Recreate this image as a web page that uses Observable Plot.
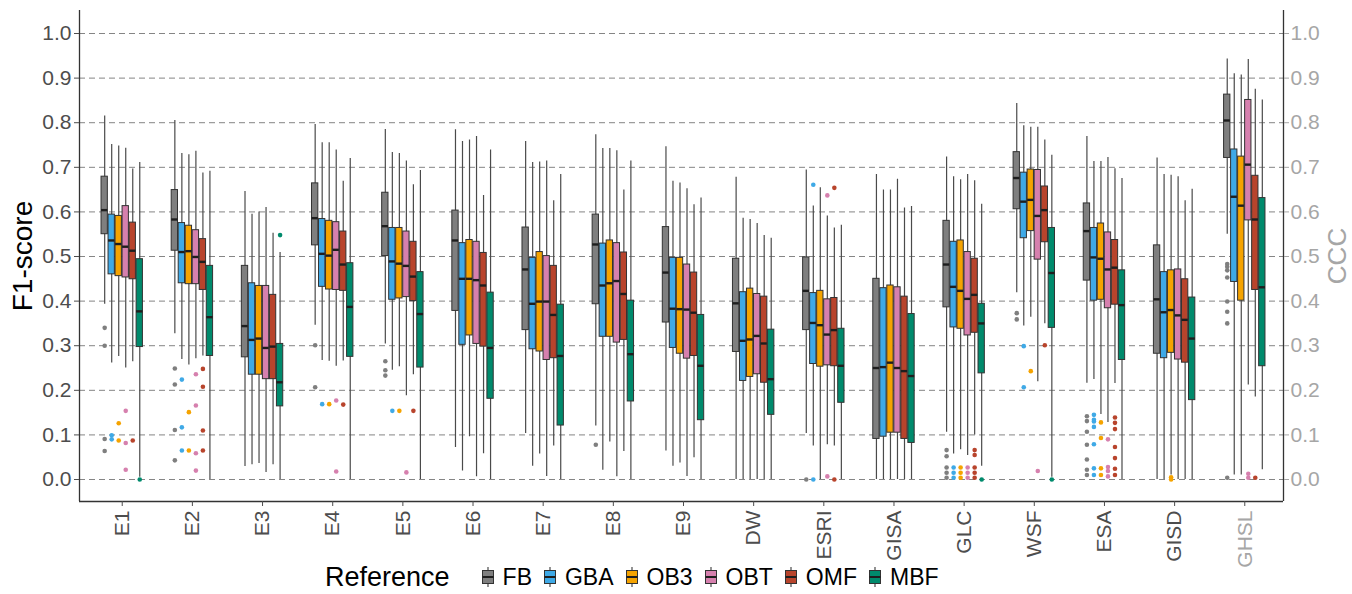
<!DOCTYPE html>
<html>
<head>
<meta charset="utf-8">
<script src="https://cdn.jsdelivr.net/npm/d3@7"></script>
<script src="https://cdn.jsdelivr.net/npm/@observablehq/plot@0.6"></script>
<style>
  body { margin: 0; background: #fff; font-family: "Liberation Sans", Arial, Helvetica, sans-serif; }
  #chart svg { display: block; }
  #legend { display: flex; align-items: center; height: 36px; padding-left: 325px; padding-top: 2px; box-sizing: border-box; }
  #legend .title { font-size: 27px; color: #000; margin-right: 31px; }
  #legend .item { display: flex; align-items: center; margin-right: 11px; }
  #legend .item svg { margin-right: 8px; }
  #legend .item span { font-size: 23px; color: #000; }
</style>
</head>
<body>
<div id="chart"></div>
<div id="legend"></div>
<script>
const groups = ["E1","E2","E3","E4","E5","E6","E7","E8","E9","DW","ESRI","GISA","GLC","WSF","ESA","GISD","GHSL"];
const seriesNames = ["FB","GBA","OB3","OBT","OMF","MBF"];
const seriesColors = ["#7f7f7f","#3fa9e6","#f5a300","#d680ae","#b8442c","#008a6c"];
const yTicks = [0,0.1,0.2,0.3,0.4,0.5,0.6,0.7,0.8,0.9,1.0];

// [lower whisker, Q1, median, Q3, upper whisker] per group
const FB = [
  [0.393,0.550,0.604,0.679,0.815],[0.327,0.513,0.583,0.649,0.805],[0.029,0.274,0.344,0.479,0.646],
  [0.346,0.525,0.586,0.664,0.796],[0.304,0.501,0.568,0.643,0.785],[0.072,0.378,0.536,0.603,0.784],
  [0.103,0.335,0.471,0.565,0.758],[0.120,0.393,0.527,0.594,0.773],[0.064,0.352,0.464,0.566,0.746],
  [0.000,0.286,0.395,0.495,0.678],[0.103,0.335,0.423,0.498,0.694],[0.000,0.091,0.250,0.450,0.684],
  [0.106,0.386,0.482,0.580,0.723],[0.419,0.606,0.676,0.734,0.843],[0.216,0.446,0.557,0.619,0.769],
  [0.000,0.282,0.404,0.525,0.721],[0.550,0.721,0.805,0.863,0.943]
];
const GBA = [
  [0.261,0.460,0.536,0.594,0.751],[0.269,0.440,0.510,0.575,0.731],[0.033,0.235,0.313,0.440,0.595],
  [0.267,0.432,0.506,0.584,0.755],[0.245,0.403,0.489,0.564,0.733],[0.019,0.302,0.450,0.530,0.758],
  [0.030,0.292,0.394,0.497,0.711],[0.021,0.320,0.435,0.529,0.742],[0.030,0.295,0.383,0.497,0.669],
  [0.000,0.221,0.311,0.420,0.586],[0.075,0.259,0.351,0.418,0.613],[0.000,0.096,0.252,0.429,0.649],
  [0.057,0.341,0.432,0.533,0.679],[0.344,0.541,0.623,0.688,0.793],[0.224,0.401,0.498,0.564,0.713],
  [0.000,0.272,0.375,0.465,0.684],[0.010,0.443,0.634,0.740,0.910]
];
const OB3 = [
  [0.276,0.456,0.528,0.591,0.748],[0.257,0.438,0.512,0.569,0.728],[0.036,0.235,0.316,0.434,0.600],
  [0.265,0.426,0.502,0.580,0.755],[0.253,0.406,0.484,0.564,0.731],[0.096,0.323,0.450,0.537,0.761],
  [0.057,0.287,0.399,0.510,0.712],[0.084,0.320,0.440,0.536,0.742],[0.037,0.282,0.382,0.497,0.665],
  [0.000,0.230,0.314,0.428,0.583],[0.000,0.253,0.346,0.423,0.654],[0.000,0.105,0.262,0.435,0.649],
  [0.067,0.338,0.423,0.536,0.672],[0.364,0.557,0.627,0.695,0.790],[0.146,0.403,0.495,0.574,0.713],
  [0.010,0.284,0.380,0.469,0.682],[0.010,0.401,0.614,0.724,0.907]
];
const OBT = [
  [0.250,0.453,0.522,0.613,0.743],[0.271,0.438,0.499,0.559,0.736],[0.016,0.225,0.295,0.434,0.610],
  [0.254,0.425,0.515,0.577,0.739],[0.188,0.409,0.479,0.556,0.714],[0.006,0.304,0.447,0.533,0.769],
  [0.007,0.268,0.399,0.501,0.714],[0.006,0.307,0.445,0.530,0.737],[0.007,0.271,0.381,0.482,0.652],
  [0.000,0.236,0.322,0.416,0.574],[0.078,0.256,0.325,0.404,0.591],[0.000,0.105,0.250,0.431,0.673],
  [0.054,0.323,0.405,0.510,0.684],[0.219,0.493,0.591,0.694,0.790],[0.128,0.384,0.471,0.554,0.722],
  [0.000,0.269,0.368,0.471,0.679],[0.212,0.581,0.706,0.851,0.942]
];
const OMF = [
  [0.264,0.449,0.513,0.576,0.696],[0.277,0.425,0.488,0.539,0.687],[0.033,0.225,0.298,0.414,0.552],
  [0.266,0.423,0.482,0.556,0.669],[0.235,0.400,0.455,0.533,0.661],[0.058,0.298,0.435,0.508,0.637],
  [0.075,0.272,0.369,0.479,0.625],[0.063,0.313,0.416,0.509,0.649],[0.049,0.277,0.374,0.464,0.616],
  [0.000,0.217,0.305,0.410,0.547],[0.075,0.254,0.335,0.407,0.564],[0.000,0.091,0.243,0.410,0.609],
  [0.100,0.329,0.414,0.495,0.670],[0.349,0.532,0.604,0.657,0.761],[0.215,0.392,0.475,0.537,0.697],
  [0.000,0.262,0.358,0.449,0.625],[0.185,0.425,0.583,0.681,0.875]
];
const MBF = [
  [0.005,0.297,0.377,0.494,0.711],[0.000,0.277,0.364,0.479,0.691],[0.000,0.164,0.218,0.304,0.509],
  [0.000,0.275,0.387,0.485,0.720],[0.000,0.251,0.371,0.465,0.693],[0.000,0.181,0.295,0.419,0.739],
  [0.000,0.121,0.277,0.392,0.684],[0.000,0.175,0.281,0.401,0.714],[0.000,0.133,0.255,0.369,0.631],
  [0.000,0.145,0.225,0.336,0.541],[0.000,0.172,0.255,0.338,0.570],[0.000,0.082,0.232,0.371,0.612],
  [0.030,0.238,0.350,0.394,0.617],[0.005,0.340,0.463,0.564,0.727],[0.000,0.268,0.391,0.469,0.675],
  [0.000,0.178,0.316,0.408,0.651],[0.022,0.254,0.431,0.631,0.851]
];

// outliers per group
const FB_out = [
  [0.34,0.30,0.091,0.064],[0.249,0.213,0.111,0.043],[],[0.301,0.207],[0.265,0.245,0.233],[],[],[0.078],[],
  [],[0.0],[],[0.066,0.052,0.027,0.015,0.004],[0.373,0.359],[0.142,0.131,0.107,0.078,0.045,0.022,0.01],[],
  [0.483,0.477,0.469,0.453,0.399,0.376,0.35,0.004]
];
const GBA_out = [
  [0.099,0.09],[0.224,0.117,0.065],[],[0.169],[0.154],[],[],[],[],
  [],[0.661,0.0],[],[0.027,0.015,0.004],[0.299,0.207],[0.145,0.134,0.13,0.118,0.079,0.025,0.01],[],[]
];
const OB3_out = [
  [0.126,0.0875],[0.151,0.065],[],[0.169],[0.154],[],[],[],[],
  [],[],[],[0.027,0.015,0.004],[0.243],[0.128,0.093,0.025,0.01],[0.005,0.0],[]
];
const OBT_out = [
  [0.154,0.082,0.022],[0.236,0.166,0.059,0.02],[],[0.177,0.018],[0.016],[],[],[],[],
  [],[0.637,0.007],[],[0.027,0.015,0.004],[0.019],[0.09,0.028,0.019,0.007],[],[0.013,0.004]
];
const OMF_out = [
  [0.0875],[0.248,0.208,0.11,0.065],[],[0.168],[0.154],[],[],[],[],
  [],[0.654,0.0],[],[0.066,0.055,0.027,0.015,0.004],[0.301],[0.139,0.127,0.113,0.073,0.048,0.024,0.01],[],[0.004]
];
const MBF_out = [
  [0.0],[],[0.548],[],[],[],[],[],[],
  [],[],[],[0.0],[0.0],[],[],[]
];

const stats = {FB, GBA, OB3, OBT, OMF, MBF};
const outs = {FB: FB_out, GBA: GBA_out, OB3: OB3_out, OBT: OBT_out, OMF: OMF_out, MBF: MBF_out};

const dodge = 0.1, halfW = 0.045;
const boxes = [], outliers = [];
seriesNames.forEach((s, si) => {
  stats[s].forEach((st, gi) => {
    boxes.push({group: groups[gi], series: s, x: gi + (si - 2.5) * dodge,
      lo: st[0], q1: st[1], med: st[2], q3: st[3], hi: st[4]});
  });
  outs[s].forEach((arr, gi) => arr.forEach(v => outliers.push({series: s, x: gi + (si - 2.5) * dodge, y: v})));
});

const xDomain = [-0.609, 16.552];
const yDomain = [-0.0493, 1.0516];
const fontFamily = '"Liberation Sans", Arial, Helvetica, sans-serif';

const chart = Plot.plot({
  width: 1352,
  height: 558,
  marginLeft: 79,
  marginRight: 69,
  marginTop: 10,
  marginBottom: 57,
  x: {domain: xDomain, axis: null},
  y: {domain: yDomain, axis: null},
  color: {domain: seriesNames, range: seriesColors},
  style: {fontFamily, fontSize: "21px", background: "#fff", overflow: "visible"},
  marks: [
    Plot.ruleY(yTicks, {stroke: "#858585", strokeWidth: 1, strokeDasharray: "6,4"}),
    Plot.ruleX(boxes, {x: "x", y1: "lo", y2: "hi", stroke: "#4a4a4a", strokeWidth: 1.2}),
    Plot.rect(boxes, {x1: d => d.x - halfW, x2: d => d.x + halfW, y1: "q1", y2: "q3",
      fill: "series", stroke: "#333", strokeWidth: 1}),
    Plot.ruleY(boxes, {x1: d => d.x - halfW, x2: d => d.x + halfW, y: "med", stroke: "#1e1e1e", strokeWidth: 2.4}),
    Plot.dot(outliers, {x: "x", y: "y", r: 2.3, fill: "series", stroke: null}),
    Plot.ruleX(xDomain, {stroke: "#333", strokeWidth: 1.3}),
    Plot.ruleY([yDomain[0]], {stroke: "#333", strokeWidth: 1.3}),
    Plot.axisY({anchor: "left", ticks: yTicks, tickSize: 5, tickPadding: 3, tickFormat: ".1f",
      color: "#4d4d4d", fontSize: 21, label: null}),
    Plot.axisY({anchor: "right", ticks: yTicks, tickSize: 5, tickPadding: 2, tickFormat: ".1f",
      color: "#a6a6a6", fontSize: 21, label: null}),
    Plot.axisX({anchor: "bottom", ticks: d3.range(groups.length), tickSize: 5, tickPadding: 4,
      tickRotate: -90, tickFormat: i => groups[i], color: "#4d4d4d", fontSize: 21, label: null}),
    Plot.text(["F1-score"], {frameAnchor: "left", textAnchor: "middle", dx: -56, rotate: -90, fontSize: 28, fill: "#000"}),
    Plot.text(["CCC"], {frameAnchor: "right", textAnchor: "middle", dx: 54, rotate: -90, fontSize: 26, fill: "#a6a6a6"})
  ]
});
document.getElementById("chart").appendChild(chart);
// GHSL tick label in gray
chart.querySelectorAll("text").forEach(t => { if (t.textContent === "GHSL") t.setAttribute("fill", "#a6a6a6"); });

// legend
const legend = document.getElementById("legend");
const title = document.createElement("span");
title.className = "title";
title.textContent = "Reference";
legend.appendChild(title);
seriesNames.forEach((s, i) => {
  const item = document.createElement("div");
  item.className = "item";
  item.innerHTML = `<svg width="14" height="20" viewBox="0 0 14 20">
    <line x1="7" x2="7" y1="0" y2="20" stroke="#4a4a4a" stroke-width="1.2"/>
    <rect x="1.5" y="3.5" width="11" height="13" fill="${seriesColors[i]}" stroke="#333" stroke-width="1"/>
    <line x1="1.5" x2="12.5" y1="10" y2="10" stroke="#1e1e1e" stroke-width="2"/>
  </svg><span>${s}</span>`;
  legend.appendChild(item);
});
</script>
</body>
</html>
